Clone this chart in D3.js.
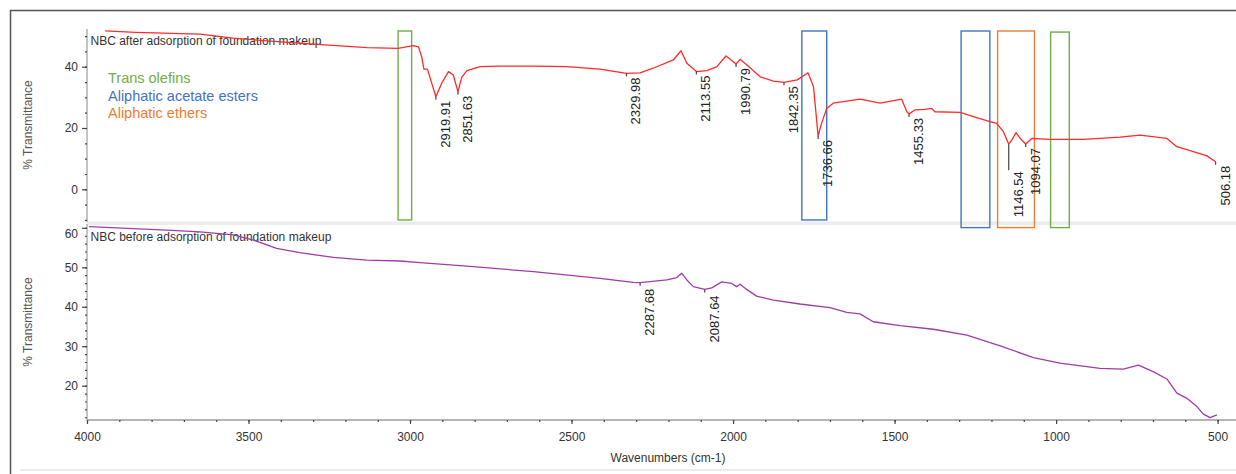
<!DOCTYPE html>
<html>
<head>
<meta charset="utf-8">
<script src="https://cdn.jsdelivr.net/npm/d3@7"></script>
<style>
  html, body { margin: 0; padding: 0; background: #fff; }
  svg { display: block; font-family: "Liberation Sans", Arial, sans-serif; }
</style>
</head>
<body>
<svg id="chart" width="1236" height="474"></svg>
<script>
// FTIR spectrum of the NBC film after adsorption (upper trace)
const afterWavenumbers = [3944, 3850, 3650, 3548, 3412, 3263, 3133, 3037, 2990, 2974, 2964, 2957, 2946, 2936,
  2919.91, 2902, 2881, 2866, 2851.63, 2840, 2824, 2783, 2721, 2618, 2515, 2412, 2329.98, 2288, 2247, 2185,
  2161, 2143, 2113.55, 2081, 2050, 2022, 2009, 1990.79, 1978, 1958, 1916, 1875, 1842.35, 1801, 1768, 1751,
  1736.66, 1726, 1710, 1690, 1607, 1545, 1478, 1462, 1455.33, 1437, 1406, 1385, 1375, 1297, 1256, 1215,
  1184, 1163, 1146.54, 1137, 1124, 1111, 1094.07, 1075, 1019, 915, 802, 740, 657, 626, 575, 533, 506.18];
const afterTransmittance = [51.7, 51.2, 50.6, 49.3, 48.2, 47.1, 46.2, 46.0, 46.9, 46.5, 43.3, 39.2, 39.2, 35.7,
  30.2, 34.6, 38.4, 37.3, 31.8, 36.5, 38.7, 40.0, 40.2, 40.2, 40.0, 39.2, 37.8, 38.0, 39.5, 42.2,
  45.2, 41.1, 38.4, 38.7, 40.0, 43.5, 42.4, 40.9, 42.4, 40.6, 36.7, 35.3, 34.9, 35.7, 38.0, 33.5,
  17.4, 21.5, 26.4, 28.1, 29.4, 28.1, 29.4, 25.3, 24.6, 25.9, 26.1, 26.4, 25.3, 25.1, 23.7, 22.4,
  21.5, 18.8, 14.7, 16.1, 18.5, 16.6, 14.8, 16.6, 16.3, 16.3, 17.0, 17.7, 16.6, 13.9, 12.3, 10.9, 9.0];

// FTIR spectrum of the NBC film before adsorption (lower trace)
const beforeWavenumbers = [3994, 3857, 3753, 3650, 3547, 3485, 3413, 3341, 3237, 3134, 3031, 2969, 2824, 2618,
  2412, 2309, 2287.68, 2205, 2174, 2159, 2143, 2123, 2087.64, 2066, 2035, 2004, 1989, 1978, 1958, 1927,
  1875, 1793, 1700, 1648, 1607, 1566, 1483, 1380, 1276, 1173, 1070, 988, 864, 792, 745, 698, 657, 626,
  595, 564, 544, 523, 502];
const beforeTransmittance = [60.3, 59.8, 59.4, 59.0, 58.2, 56.9, 54.8, 53.7, 52.5, 51.8, 51.6, 51.2, 50.3, 48.9,
  47.2, 46.2, 46.1, 46.8, 47.4, 48.5, 46.8, 45.1, 44.4, 44.8, 46.3, 45.9, 45.1, 45.7, 44.4, 42.7,
  41.7, 40.7, 39.8, 38.6, 38.2, 36.2, 35.2, 34.3, 32.8, 30.1, 27.1, 25.7, 24.4, 24.2, 25.2, 23.5, 21.7, 18.1,
  16.8, 14.7, 12.8, 11.9, 12.6];

// Labelled peaks
const afterPeaks = [2919.91, 2851.63, 2329.98, 2113.55, 1990.79, 1842.35, 1736.66, 1455.33, 1146.54, 1094.07, 506.18];
const beforePeaks = [2287.68, 2087.64];

// Band regions (wavenumber range, transmittance extent on the upper scale)
const bandNames = ["Trans olefins", "Aliphatic acetate esters", "Aliphatic ethers"];
const bandColors = ["#70ad47", "#4472c4", "#ed7d31"];
const bandFrom = [3037, 1787, 1294, 1181, 1017];
const bandTo = [2995, 1710, 1205, 1067, 959];
const bandTop = [51.65, 51.65, 51.65, 51.65, 51.3];
const bandBottom = [-10.0, -10.0, -12.5, -12.5, -12.5];
const bandKind = [0, 1, 1, 2, 0];

// Axis ticks
const xMajorTicks = [4000, 3500, 3000, 2500, 2000, 1500, 1000, 500];
const xMinorTicks = d3.range(4000, 499, -100);
const yTopMajor = [0, 20, 40];
const yTopMinor = d3.range(-10, 51, 5);
const yBotMajor = [20, 30, 40, 50, 60];
const yBotMinor = d3.range(12, 61, 2);

const svg = d3.select("#chart");
const W = 1236, H = 474;

const x = d3.scaleLinear().domain([4000, 443]).range([87, 1236]);
const yTop = d3.scaleLinear().domain([40, 0]).range([66.7, 189.3]);
const yBot = d3.scaleLinear().domain([50, 20]).range([267.3, 385.7]);

const topPanel = { y0: 29, y1: 222 };
const botPanel = { y0: 224, y1: 420 };

// outer frame
svg.append("line").attr("x1", 10).attr("x2", W).attr("y1", 10.5).attr("y2", 10.5)
  .attr("stroke", "#555").attr("stroke-width", 1.5);
svg.append("line").attr("x1", 10.5).attr("x2", 10.5).attr("y1", 10).attr("y2", H)
  .attr("stroke", "#555").attr("stroke-width", 1.5);
svg.append("line").attr("x1", 20).attr("x2", W).attr("y1", 470).attr("y2", 470)
  .attr("stroke", "#ececec").attr("stroke-width", 2);

// separator between the two panels
svg.append("rect").attr("x", 87).attr("y", 221.5).attr("width", W - 87).attr("height", 3.5)
  .attr("fill", "#ececec");

// clip regions for the traces
const defs = svg.append("defs");
defs.append("clipPath").attr("id", "clipTop").append("rect")
  .attr("x", 87).attr("y", topPanel.y0 - 4).attr("width", W - 87).attr("height", topPanel.y1 - topPanel.y0 + 4);
defs.append("clipPath").attr("id", "clipBot").append("rect")
  .attr("x", 87).attr("y", botPanel.y0).attr("width", W - 87).attr("height", botPanel.y1 - botPanel.y0);

// y axes
function drawYAxis(scale, major, minor, panel) {
  const g = svg.append("g").attr("transform", "translate(87,0)");
  g.append("line").attr("x1", 0).attr("x2", 0).attr("y1", panel.y0).attr("y2", panel.y1)
    .attr("stroke", "#c4c4c4").attr("stroke-width", 2);
  const minorAxis = d3.axisLeft(scale).tickValues(minor).tickSize(2).tickFormat("");
  const gm = g.append("g").call(minorAxis);
  gm.select(".domain").remove();
  gm.selectAll(".tick line").attr("stroke", "#444").attr("stroke-width", 1.2);
  const majorAxis = d3.axisLeft(scale).tickValues(major).tickSize(5).tickPadding(4).tickFormat(d3.format("d"));
  const gM = g.append("g").call(majorAxis);
  gM.select(".domain").remove();
  gM.selectAll(".tick line").attr("stroke", "#444").attr("stroke-width", 1.2);
  gM.selectAll(".tick text").attr("fill", "#333").style("font-size", "12px")
    .style("font-family", "Liberation Sans, Arial, sans-serif");
  // keep the topmost label inside its panel
  gM.selectAll(".tick").each(function (d) {
    const yy = scale(d);
    if (yy - 6 < panel.y0 + 2) {
      d3.select(this).select("text").attr("y", (panel.y0 + 10) - yy);
    }
  });
  return g;
}
drawYAxis(yTop, yTopMajor, yTopMinor, topPanel);
drawYAxis(yBot, yBotMajor, yBotMinor, botPanel);

// x axis
const gx = svg.append("g").attr("transform", `translate(0,${botPanel.y1})`);
gx.append("line").attr("x1", 87).attr("x2", W).attr("y1", 0).attr("y2", 0)
  .attr("stroke", "#b4b4b4").attr("stroke-width", 2);
const gxm = gx.append("g").call(d3.axisBottom(x).tickValues(xMinorTicks).tickSize(2).tickFormat(""));
gxm.select(".domain").remove();
gxm.selectAll(".tick line").attr("stroke", "#444").attr("stroke-width", 1.2);
const gxM = gx.append("g").call(d3.axisBottom(x).tickValues(xMajorTicks).tickSize(4).tickPadding(8).tickFormat(d3.format("d")));
gxM.select(".domain").remove();
gxM.selectAll(".tick line").attr("stroke", "#444").attr("stroke-width", 1.2);
gxM.selectAll(".tick text").attr("fill", "#333").style("font-size", "12px")
  .style("font-family", "Liberation Sans, Arial, sans-serif");

// axis titles
svg.append("text").attr("x", 668).attr("y", 461.5).attr("text-anchor", "middle")
  .attr("fill", "#333").style("font-size", "12px").text("Wavenumbers (cm-1)");
[[125, "top"], [322, "bot"]].forEach(([cy]) => {
  svg.append("text").attr("transform", `translate(31.5,${cy}) rotate(-90)`).attr("text-anchor", "middle")
    .attr("fill", "#555").style("font-size", "12px").text("% Transmittance");
});

// panel titles
svg.append("text").attr("x", 90.5).attr("y", 45).attr("fill", "#333").style("font-size", "12px")
  .text("NBC after adsorption of foundation makeup");
svg.append("text").attr("x", 90.5).attr("y", 240.7).attr("fill", "#333").style("font-size", "12px")
  .text("NBC before adsorption of foundation makeup");

// band boxes
svg.append("g").selectAll("rect").data(d3.range(bandFrom.length)).join("rect")
  .attr("x", i => x(bandFrom[i]))
  .attr("y", i => yTop(bandTop[i]))
  .attr("width", i => x(bandTo[i]) - x(bandFrom[i]))
  .attr("height", i => yTop(bandBottom[i]) - yTop(bandTop[i]))
  .attr("fill", "none")
  .attr("stroke", i => bandColors[bandKind[i]])
  .attr("stroke-width", 1.4);

// band legend
svg.append("g").selectAll("text").data(bandNames).join("text")
  .attr("x", 108).attr("y", (d, i) => 83.3 + i * 17.5)
  .attr("fill", (d, i) => bandColors[i])
  .style("font-size", "14.5px")
  .text(d => d);

// traces
const afterData = afterWavenumbers.map((w, i) => [w, afterTransmittance[i]]);
const beforeData = beforeWavenumbers.map((w, i) => [w, beforeTransmittance[i]]);

svg.append("path").datum(afterData)
  .attr("clip-path", "url(#clipTop)")
  .attr("fill", "none").attr("stroke", "#ff2a2a").attr("stroke-width", 1.3)
  .attr("stroke-linejoin", "round")
  .attr("d", d3.line().x(d => x(d[0])).y(d => yTop(d[1])));

svg.append("path").datum(beforeData)
  .attr("clip-path", "url(#clipBot)")
  .attr("fill", "none").attr("stroke", "#a03ca6").attr("stroke-width", 1.3)
  .attr("stroke-linejoin", "round")
  .attr("d", d3.line().x(d => x(d[0])).y(d => yBot(d[1])));

// peak markers and labels
function drawPeaks(peaks, wns, vals, yScale, gap) {
  const g = svg.append("g");
  peaks.forEach(p => {
    const i = wns.indexOf(p);
    const px = x(p), py = yScale(vals[i]);
    const lead = p === 1146.54 ? 26 : 3;
    g.append("line").attr("x1", px).attr("x2", px).attr("y1", py).attr("y2", py + lead)
      .attr("stroke", "#444").attr("stroke-width", 1.2);
    g.append("text")
      .attr("transform", `translate(${px + 14},${py + lead + gap}) rotate(-90)`)
      .attr("text-anchor", "end")
      .attr("fill", "#222")
      .style("font-size", "13px")
      .text(p.toFixed(2));
  });
}
drawPeaks(afterPeaks, afterWavenumbers, afterTransmittance, yTop, 1);
drawPeaks(beforePeaks, beforeWavenumbers, beforeTransmittance, yBot, 3);
</script>
</body>
</html>
